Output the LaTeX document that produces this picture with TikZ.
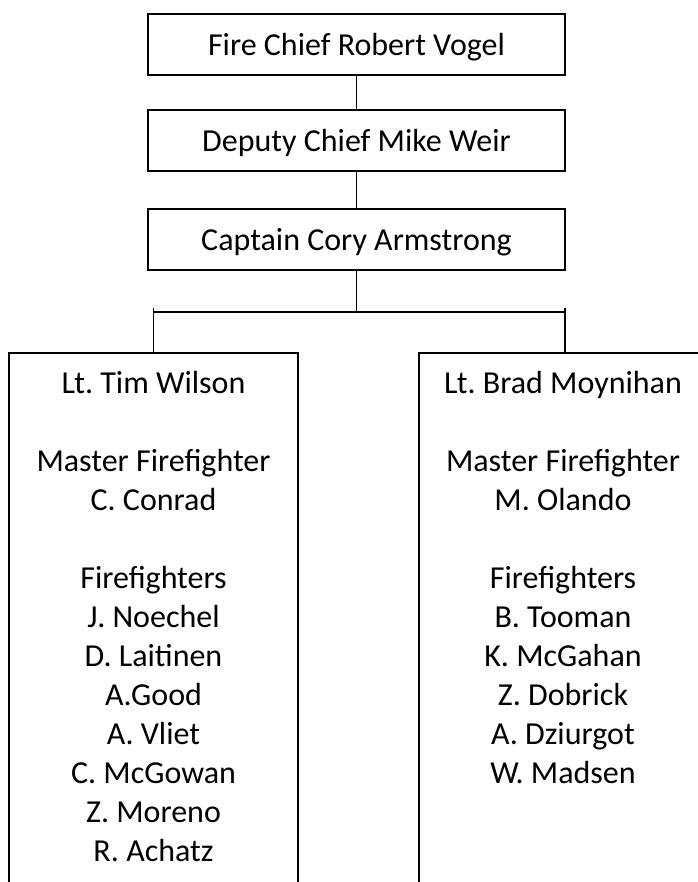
\documentclass[tikz,border=0pt]{standalone}
\usepackage{fontspec}
\setmainfont{Carlito}
\frenchspacing
\begin{document}
\begin{tikzpicture}[x=0.75pt, y=-0.75pt,
		every node/.style={font=\fontsize{24pt}{29.25pt}\selectfont},
		rank/.style={draw, line width=1.2pt, minimum width=312.75pt, minimum height=45.75pt, inner sep=0pt, text height=20pt, text depth=4.25pt},
		crewbox/.style={draw, line width=1.2pt, inner sep=0pt, minimum height=432.75pt},
		member/.style={anchor=base, inner sep=0pt}]
		\useasboundingbox (0, 0) rectangle (698, 882);
		\clip (0, 0) rectangle (698, 882);

		\node[rank] (chief) at (356.5, 44.5) {Fire Chief Robert Vogel};
		\node[rank] (deputy) at (356.5, 140.5) {Deputy Chief Mike Weir};
		\node[rank] (captain) at (356.5, 239.5) {Captain Cory Armstrong};

		\node[crewbox, minimum width=216.75pt] (wilson) at (153.5, 641.5) {};
		\node[crewbox, minimum width=219pt] (moynihan) at (565, 641.5) {};

		\coordinate (split) at (356.5, 312);
		\draw[line width=1.2pt] (chief.south) -- (deputy.north);
		\draw[line width=1.2pt] (deputy.south) -- (captain.north);
		\draw[line width=1.2pt] (captain.south) -- (split);
		\draw[line width=1.2pt] (wilson.north |- split) -- (moynihan.north |- split);
		\draw[line width=1.2pt] (wilson.north) -- ++(0, -44);
		\draw[line width=1.2pt] (moynihan.north) -- ++(0, -44);

		% left crew
		\node[member] (w0) at (153.5, 393) {Lt. Tim Wilson};
		\node[member] (w2) at (153.5, 471) {Master Firefighter};
		\node[member] (w3) at (153.5, 510) {C. Conrad};
		\node[member] (w5) at (153.5, 588) {Firefighters};
		\foreach \who [count=\k from 6] in {J. Noechel, D. Laitinen, A.Good, A. Vliet, C. McGowan, Z. Moreno, R. Achatz}
		\node[member] (w\k) at (153.5, 393+39*\k) {\who};

		% right crew
		\node[member] (m0) at (563, 393) {Lt. Brad Moynihan};
		\node[member] (m2) at (563, 471) {Master Firefighter};
		\node[member] (m3) at (563, 510) {M. Olando};
		\node[member] (m5) at (563, 588) {Firefighters};
		\foreach \who [count=\k from 6] in {B. Tooman, K. McGahan, Z. Dobrick, A. Dziurgot, W. Madsen}
		\node[member] (m\k) at (563, 393+39*\k) {\who};
	\end{tikzpicture}
\end{document}
